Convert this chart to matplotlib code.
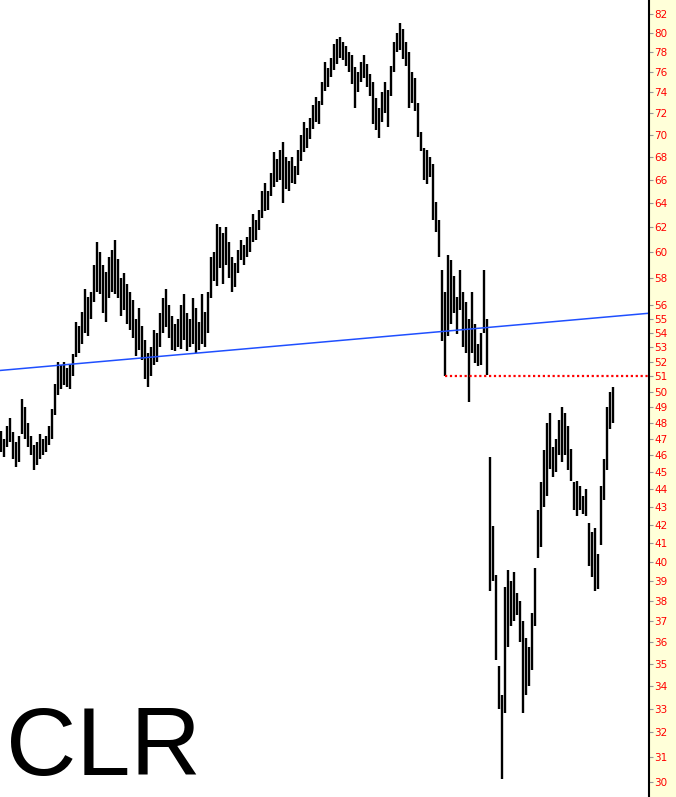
import numpy as np
import matplotlib
matplotlib.use('Agg')
import matplotlib.pyplot as plt
from matplotlib.ticker import FixedLocator, FixedFormatter, NullLocator

# bar highs / lows (one bar every step)
highs = [47.5, 47.0, 47.8, 48.3, 47.4, 46.8, 47.2, 49.5, 49.0, 48.0,
         47.2, 46.6, 46.8, 47.3, 47.0, 47.2, 47.8, 48.9, 50.5, 52.0,
         51.8, 52.0, 51.6, 51.8, 52.5, 54.8, 54.5, 55.5, 57.2, 56.6,
         57.0, 59.0, 60.8, 60.0, 59.0, 58.5, 59.6, 60.2, 61.0, 59.5,
         58.0, 58.4, 57.6, 57.0, 56.4, 55.0, 55.8, 54.5, 53.5, 52.6,
         53.0, 54.2, 54.0, 55.4, 56.5, 57.2, 56.0, 55.2, 54.6, 55.0,
         56.0, 56.8, 55.4, 55.0, 56.5, 55.8, 54.8, 56.8, 55.5, 57.0,
         59.6, 60.0, 62.3, 62.0, 61.5, 62.0, 60.8, 59.6, 59.2, 60.2,
         61.0, 60.6, 61.2, 62.0, 63.1, 62.6, 63.4, 65.0, 65.7, 65.0,
         66.6, 68.4, 67.8, 68.6, 69.3, 68.0, 67.6, 68.0, 67.2, 68.6,
         70.0, 71.2, 70.6, 71.5, 72.8, 73.5, 73.2, 75.0, 77.0, 76.4,
         77.4, 78.8, 79.3, 79.6, 79.0, 78.6, 78.0, 77.7, 76.5, 76.0,
         77.0, 77.7, 76.8, 75.8, 75.0, 73.4, 72.5, 74.0, 75.0, 74.2,
         76.6, 79.0, 80.0, 81.0, 80.4, 79.0, 78.0, 76.0, 75.4, 73.0,
         70.2, 68.8, 68.6, 68.0, 67.4, 64.1, 62.6, 58.6, 57.0, 59.8,
         59.4, 58.2, 56.6, 58.6, 57.0, 56.2, 55.0, 57.0, 54.6, 53.2,
         54.0, 58.6, 55.0, 45.9, 41.9, 39.3, 34.9, 33.6, 38.7, 39.6,
         39.0, 39.5, 38.4, 38.0, 37.0, 36.2, 35.8, 37.4, 39.7, 42.8,
         44.4, 46.3, 48.0, 48.6, 46.5, 47.0, 48.2, 49.0, 48.6, 47.8,
         46.4, 44.4, 44.5, 44.2, 43.6, 44.0, 42.1, 41.6, 41.8, 40.4,
         44.2, 45.8, 49.0, 50.0, 50.3]
lows = [46.2, 45.9, 46.5, 46.8, 45.8, 45.3, 45.6, 47.3, 47.0, 46.5,
        46.0, 45.1, 45.4, 45.8, 46.0, 46.2, 46.6, 47.0, 48.5, 49.8,
        50.2, 50.4, 50.3, 50.2, 51.0, 52.3, 52.6, 53.2, 54.0, 53.8,
        55.0, 56.2, 57.0, 56.8, 55.4, 54.8, 56.5, 57.0, 56.8, 56.5,
        55.2, 55.6, 54.6, 54.2, 53.6, 52.4, 52.8, 52.1, 50.8, 50.3,
        51.0, 51.8, 52.0, 53.0, 54.0, 54.4, 53.6, 52.8, 52.7, 53.0,
        52.9, 53.5, 52.7, 53.0, 53.2, 52.6, 52.8, 53.2, 53.0, 54.0,
        56.5, 57.8, 57.4, 58.8, 57.6, 59.0, 58.0, 57.0, 57.3, 58.4,
        59.4, 59.0, 59.6, 60.0, 60.8, 61.0, 61.8, 62.8, 63.3, 63.4,
        64.6, 65.4, 65.8, 66.0, 64.0, 65.2, 65.0, 65.7, 65.6, 66.4,
        67.6, 68.4, 68.8, 69.6, 70.5, 71.2, 71.0, 72.8, 74.1, 74.5,
        75.5, 76.2, 76.8, 77.4, 77.2, 76.6, 76.0, 74.8, 72.5, 74.0,
        75.0, 75.4, 74.5, 73.6, 71.0, 70.4, 69.7, 71.2, 72.0, 70.7,
        73.6, 76.0, 78.0, 78.2, 77.3, 76.6, 72.5, 73.0, 72.2, 69.8,
        68.5, 66.0, 65.6, 66.2, 62.6, 61.6, 59.6, 53.4, 51.0, 53.8,
        54.6, 55.4, 53.9, 55.6, 53.0, 52.6, 49.3, 52.6, 51.9, 51.7,
        51.8, 54.0, 51.1, 38.5, 39.0, 35.2, 33.0, 30.1, 32.8, 35.8,
        36.8, 37.0, 37.3, 36.0, 32.8, 33.6, 34.0, 34.7, 36.8, 40.2,
        40.8, 43.0, 43.6, 45.2, 44.7, 45.0, 46.0, 45.6, 46.0, 45.1,
        44.5, 42.8, 42.5, 42.8, 42.6, 42.5, 39.8, 39.2, 38.5, 38.6,
        40.9, 43.4, 45.1, 47.6, 48.0]

trend_left, trend_right = 51.4, 55.4   # blue trendline at chart edges
support = 51.0                         # red dotted level
support_start = 148                    # bar where dotted line starts

ytick_vals = list(range(30, 57)) + list(range(58, 83, 2))
ytick_labels = [str(v) for v in ytick_vals]

fig = plt.figure(figsize=(6.76, 7.97), dpi=100)
fig.patch.set_facecolor('#ffffd9')
ax = fig.add_axes([0, 0, 649/676, 1])
ax.set_facecolor('white')

x = np.arange(len(highs))
ax.vlines(x, lows, highs, color='black', lw=1.7)

xmax = 649/3 - 0.3
ax.set_xlim(-0.3, xmax)
ax.set_yscale('log')
ax.set_ylim(29.4, 83.5)

ax.plot([-0.3, xmax], [trend_left, trend_right], color='#1f4fff', lw=1.1)
ax.plot([support_start, xmax], [support, support], color='red', lw=1.6,
        linestyle=(0, (1, 1.2)))

ax.yaxis.tick_right()
ax.yaxis.set_major_locator(FixedLocator(ytick_vals))
ax.yaxis.set_major_formatter(FixedFormatter(ytick_labels))
ax.yaxis.set_minor_locator(NullLocator())
ax.tick_params(axis='y', which='major', direction='out', length=3, width=0.8,
               color='#999999', labelcolor='red', labelsize=7.5, pad=1)
ax.set_xticks([])
for s in ['top', 'left', 'bottom']:
    ax.spines[s].set_visible(False)
ax.spines['right'].set_linewidth(1.5)
ax.spines['right'].set_color('black')

fig.text(6/676, 0.002, 'CLR', fontsize=70, family='Liberation Sans',
         color='black', ha='left', va='bottom')

fig.savefig('out.png', dpi=100, facecolor=fig.get_facecolor())
